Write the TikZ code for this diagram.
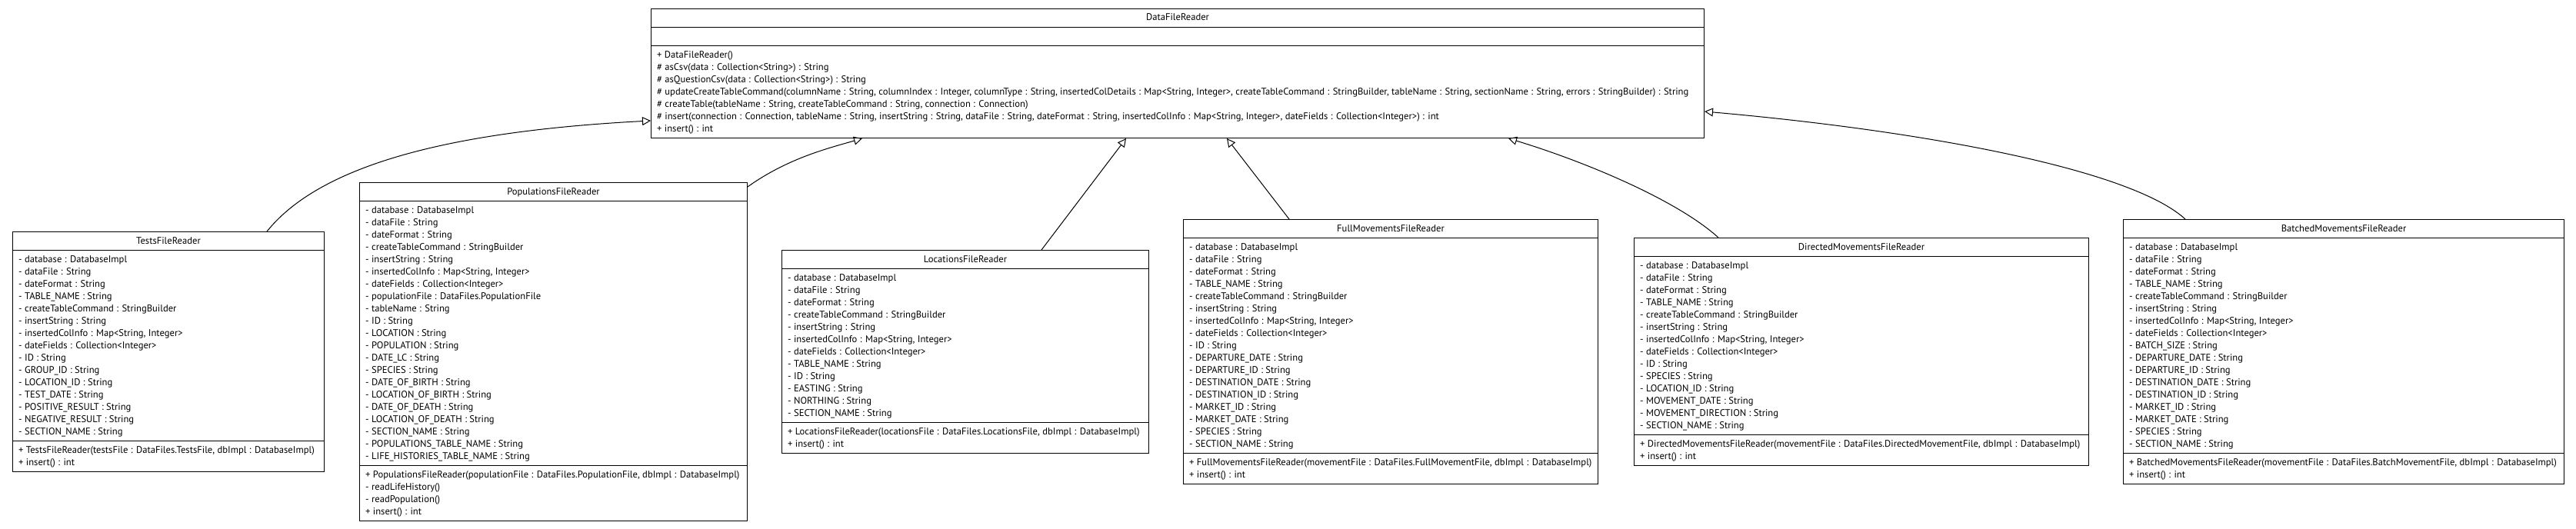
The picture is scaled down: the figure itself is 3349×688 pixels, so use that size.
\documentclass[tikz,border=0pt]{standalone}
\usepackage{fontspec}
\setmainfont{PT Sans}
\usetikzlibrary{arrows.meta,calc}
\tikzset{
  classbox/.style={draw, line width=1pt, rectangle, inner sep=0pt},
  sepline/.style={line width=1pt},
  rowtext/.style={font=\fontsize{12.6}{14}\selectfont, inner sep=0pt},
  gen/.style={line width=1pt, -{Triangle[open,length=11pt,width=11pt]}},
}
\newcommand{\umlbox}[9]{%
  \pgfmathsetmacro{\hA}{#6*16+8}%
  \pgfmathsetmacro{\hM}{#8*16+8}%
  \pgfmathsetmacro{\hT}{24+\hA+\hM}%
  \node[classbox, minimum width=#4pt, minimum height=\hT pt, anchor=north west] (#1) at (#2,#3) {};
  \node[rowtext, anchor=base] (#1-t) at ([yshift=-16pt]#1.north) {#5};
  \draw[sepline] ([yshift=-24pt]#1.north west) -- ([yshift=-24pt]#1.north east);
  \draw[sepline] ([yshift={-(24+\hA)*1pt}]#1.north west) -- ([yshift={-(24+\hA)*1pt}]#1.north east);
  \foreach \rt [count=\i] in {#7} {\node[rowtext, anchor=base west] (#1-a\i) at ([xshift=8pt,yshift={-(24+16*\i)*1pt}]#1.north west) {\rt};}
  \foreach \rt [count=\i] in {#9} {\node[rowtext, anchor=base west] (#1-m\i) at ([xshift=8pt,yshift={-(24+\hA+16*\i)*1pt}]#1.north west) {\rt};}
}
\begin{document}
\begin{tikzpicture}[x=1pt,y=-1pt]
\fill[white] (0,0) rectangle (3349,688);
\useasboundingbox (0,0) rectangle (3349,688);

% DataFileReader
\node[classbox, minimum width=1369pt, minimum height=168pt, anchor=north west] (dfr) at (846,11) {};
\node[rowtext, anchor=base] (dfr-t) at ([yshift=-16pt]dfr.north) {DataFileReader};
\draw[sepline] ([yshift=-24pt]dfr.north west) -- ([yshift=-24pt]dfr.north east);
\draw[sepline] ([yshift=-48pt]dfr.north west) -- ([yshift=-48pt]dfr.north east);
\foreach \rt [count=\i] in {
  + DataFileReader(),
  \# asCsv(data : Collection<String>) : String,
  \# asQuestionCsv(data : Collection<String>) : String,
  {\# updateCreateTableCommand(columnName : String, columnIndex : Integer, columnType : String, insertedColDetails : Map<String, Integer>, createTableCommand : StringBuilder, tableName : String, sectionName : String, errors : StringBuilder) : String},
  {\# createTable(tableName : String, createTableCommand : String, connection : Connection)},
  {\# insert(connection : Connection, tableName : String, insertString : String, dataFile : String, dateFormat : String, insertedColInfo : Map<String, Integer>, dateFields : Collection<Integer>) : int},
  + insert() : int}
  {\node[rowtext, anchor=base west] (dfr-m\i) at ([xshift=8pt,yshift={-(48+16*\i)*1pt}]dfr.north west) {\rt};}

\umlbox{tests}{16}{301}{405}{TestsFileReader}{15}{
  - database : DatabaseImpl,
  - dataFile : String,
  - dateFormat : String,
  - TABLE\_NAME : String,
  - createTableCommand : StringBuilder,
  - insertString : String,
  {- insertedColInfo : Map<String, Integer>},
  - dateFields : Collection<Integer>,
  - ID : String,
  - GROUP\_ID : String,
  - LOCATION\_ID : String,
  - TEST\_DATE : String,
  - POSITIVE\_RESULT : String,
  - NEGATIVE\_RESULT : String,
  - SECTION\_NAME : String}{2}{
  {+ TestsFileReader(testsFile : DataFiles.TestsFile, dbImpl : DatabaseImpl)},
  + insert() : int}

\umlbox{pop}{467}{237}{504}{PopulationsFileReader}{21}{
  - database : DatabaseImpl,
  - dataFile : String,
  - dateFormat : String,
  - createTableCommand : StringBuilder,
  - insertString : String,
  {- insertedColInfo : Map<String, Integer>},
  - dateFields : Collection<Integer>,
  - populationFile : DataFiles.PopulationFile,
  - tableName : String,
  - ID : String,
  - LOCATION : String,
  - POPULATION : String,
  - DATE\_LC : String,
  - SPECIES : String,
  - DATE\_OF\_BIRTH : String,
  - LOCATION\_OF\_BIRTH : String,
  - DATE\_OF\_DEATH : String,
  - LOCATION\_OF\_DEATH : String,
  - SECTION\_NAME : String,
  - POPULATIONS\_TABLE\_NAME : String,
  - LIFE\_HISTORIES\_TABLE\_NAME : String}{4}{
  {+ PopulationsFileReader(populationFile : DataFiles.PopulationFile, dbImpl : DatabaseImpl)},
  - readLifeHistory(),
  - readPopulation(),
  + insert() : int}

\umlbox{loc}{1016}{325}{477}{LocationsFileReader}{12}{
  - database : DatabaseImpl,
  - dataFile : String,
  - dateFormat : String,
  - createTableCommand : StringBuilder,
  - insertString : String,
  {- insertedColInfo : Map<String, Integer>},
  - dateFields : Collection<Integer>,
  - TABLE\_NAME : String,
  - ID : String,
  - EASTING : String,
  - NORTHING : String,
  - SECTION\_NAME : String}{2}{
  {+ LocationsFileReader(locationsFile : DataFiles.LocationsFile, dbImpl : DatabaseImpl)},
  + insert() : int}

\umlbox{full}{1538}{285}{539}{FullMovementsFileReader}{17}{
  - database : DatabaseImpl,
  - dataFile : String,
  - dateFormat : String,
  - TABLE\_NAME : String,
  - createTableCommand : StringBuilder,
  - insertString : String,
  {- insertedColInfo : Map<String, Integer>},
  - dateFields : Collection<Integer>,
  - ID : String,
  - DEPARTURE\_DATE : String,
  - DEPARTURE\_ID : String,
  - DESTINATION\_DATE : String,
  - DESTINATION\_ID : String,
  - MARKET\_ID : String,
  - MARKET\_DATE : String,
  - SPECIES : String,
  - SECTION\_NAME : String}{2}{
  {+ FullMovementsFileReader(movementFile : DataFiles.FullMovementFile, dbImpl : DatabaseImpl)},
  + insert() : int}

\umlbox{dir}{2124}{309}{591}{DirectedMovementsFileReader}{14}{
  - database : DatabaseImpl,
  - dataFile : String,
  - dateFormat : String,
  - TABLE\_NAME : String,
  - createTableCommand : StringBuilder,
  - insertString : String,
  {- insertedColInfo : Map<String, Integer>},
  - dateFields : Collection<Integer>,
  - ID : String,
  - SPECIES : String,
  - LOCATION\_ID : String,
  - MOVEMENT\_DATE : String,
  - MOVEMENT\_DIRECTION : String,
  - SECTION\_NAME : String}{2}{
  {+ DirectedMovementsFileReader(movementFile : DataFiles.DirectedMovementFile, dbImpl : DatabaseImpl)},
  + insert() : int}

\umlbox{bat}{2760}{285}{573}{BatchedMovementsFileReader}{17}{
  - database : DatabaseImpl,
  - dataFile : String,
  - dateFormat : String,
  - TABLE\_NAME : String,
  - createTableCommand : StringBuilder,
  - insertString : String,
  {- insertedColInfo : Map<String, Integer>},
  - dateFields : Collection<Integer>,
  - BATCH\_SIZE : String,
  - DEPARTURE\_DATE : String,
  - DEPARTURE\_ID : String,
  - DESTINATION\_DATE : String,
  - DESTINATION\_ID : String,
  - MARKET\_ID : String,
  - MARKET\_DATE : String,
  - SPECIES : String,
  - SECTION\_NAME : String}{2}{
  {+ BatchedMovementsFileReader(movementFile : DataFiles.BatchMovementFile, dbImpl : DatabaseImpl)},
  + insert() : int}

% generalisation connectors
\draw[gen] ([xshift=331pt]tests.north west) .. controls (420,210) and (600,170) .. ([yshift=-146pt]dfr.north west);
\draw[gen] ([yshift=-6pt]pop.north east) .. controls (1025,205) and (1080,192) .. ([xshift=275pt]dfr.south west);
\draw[gen] ([xshift=338pt]loc.north west) -- ([xshift=618pt]dfr.south west);
\draw[gen] ([xshift=138pt]full.north west) -- ([xshift=749pt]dfr.south west);
\draw[gen] ([xshift=110pt]dir.north west) .. controls (2180,260) and (2060,210) .. ([xshift=1115pt]dfr.south west);
\draw[gen] ([xshift=81pt]bat.north west) .. controls (2770,220) and (2500,170) .. ([yshift=-134pt]dfr.north east);
\end{tikzpicture}
\end{document}
